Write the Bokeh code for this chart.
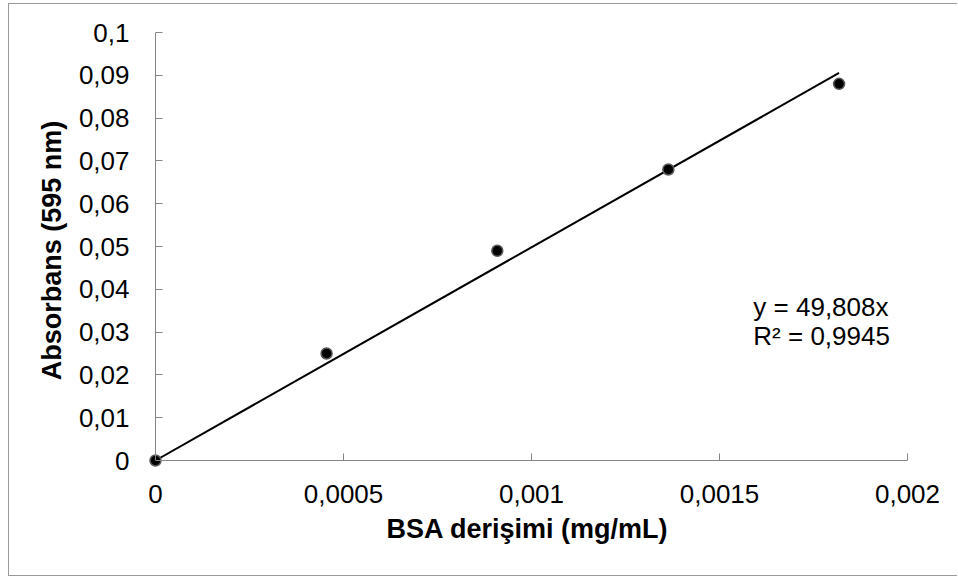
from bokeh.plotting import figure
from bokeh.models import Range1d, FixedTicker, Label, LinearAxis, ColumnDataSource
from bokeh.embed import file_html
from bokeh.resources import INLINE

# ---- data ----
conc = [0, 0.000455, 0.000909, 0.001364, 0.001818]      # BSA derişimi (mg/mL)
absorb = [0, 0.025, 0.049, 0.068, 0.088]                # Absorbans (595 nm)
slope = 49.808                                           # trendline y = 49,808x
eq_text = "y = 49,808x"
r2_text = "R² = 0,9945"

x_ticks = [0, 0.0005, 0.001, 0.0015, 0.002]
x_labels = ["0", "0,0005", "0,001", "0,0015", "0,002"]
y_ticks = [0, 0.01, 0.02, 0.03, 0.04, 0.05, 0.06, 0.07, 0.08, 0.09, 0.1]
y_labels = ["0", "0,01", "0,02", "0,03", "0,04", "0,05", "0,06", "0,07", "0,08", "0,09", "0,1"]
x_title = "BSA derişimi (mg/mL)"
y_title = "Absorbans (595 nm)"

# ---- layout / style constants ----
FONT = "Liberation Sans"
AXIS_COLOR = "#868686"
X_MAX = 0.002
Y_MAX = 0.1
PAD_PX = 8            # frame extends this far beyond the axes so the origin dot is not clipped
x_start = -X_MAX * PAD_PX / 752
y_start = -Y_MAX * PAD_PX / 428

p = figure(
    width=949, height=573,
    x_range=Range1d(x_start, X_MAX), y_range=Range1d(y_start, Y_MAX),
    output_backend="svg", toolbar_location=None,
    x_axis_location=None, y_axis_location=None,
    min_border_left=138, min_border_right=51, min_border_top=28, min_border_bottom=109,
    styles={"margin-left": "8px", "margin-top": "3px",
            "border-left": "1px solid #9a9a9a", "border-top": "1px solid #9a9a9a",
            "border-bottom": "1px solid #9a9a9a"},
)
p.outline_line_color = None
p.background_fill_color = "white"
p.border_fill_color = "white"
p.grid.visible = False

def style_axis(ax, ticks, labels, title):
    ax.ticker = FixedTicker(ticks=ticks)
    ax.major_label_overrides = {t: l for t, l in zip(ticks, labels)}
    ax.minor_tick_line_color = None
    ax.major_tick_in = PAD_PX + 7
    ax.major_tick_out = -PAD_PX
    ax.major_tick_line_color = AXIS_COLOR
    ax.axis_line_color = None
    ax.major_label_text_font = FONT
    ax.major_label_text_font_size = "26px"
    ax.major_label_text_color = "black"
    ax.axis_label = title
    ax.axis_label_text_font = FONT
    ax.axis_label_text_font_style = "bold"
    ax.axis_label_text_font_size = "27px"
    ax.axis_label_text_color = "black"

yax = LinearAxis()
style_axis(yax, y_ticks, y_labels, y_title)
yax.major_label_standoff = 18
yax.axis_label_standoff = 9
p.add_layout(yax, "left")

xax = LinearAxis()
style_axis(xax, x_ticks, x_labels, x_title)
xax.major_label_standoff = 16
xax.axis_label_standoff = 8
p.add_layout(xax, "below")

# axis lines at data zero
p.line([0, 0], [0, Y_MAX], line_color=AXIS_COLOR, line_width=1)
p.line([0, X_MAX], [0, 0], line_color=AXIS_COLOR, line_width=1)

# trendline from the fitted slope over the data range
trend_x = [0, max(conc)]
trend_y = [slope * v for v in trend_x]
p.line(trend_x, trend_y, line_color="black", line_width=2)

src = ColumnDataSource(dict(x=conc, y=absorb))
p.scatter("x", "y", source=src, size=11, fill_color="black",
          line_color="#5a5a5a", line_width=1.5)

p.add_layout(Label(x=0.00159, y=0.0358, text=eq_text, text_font=FONT,
                   text_font_size="26px", text_color="black", text_baseline="alphabetic"))
p.add_layout(Label(x=0.00159, y=0.0290, text=r2_text, text_font=FONT,
                   text_font_size="26px", text_color="black", text_baseline="alphabetic"))

open("out.html", "w").write(file_html(p, INLINE))
